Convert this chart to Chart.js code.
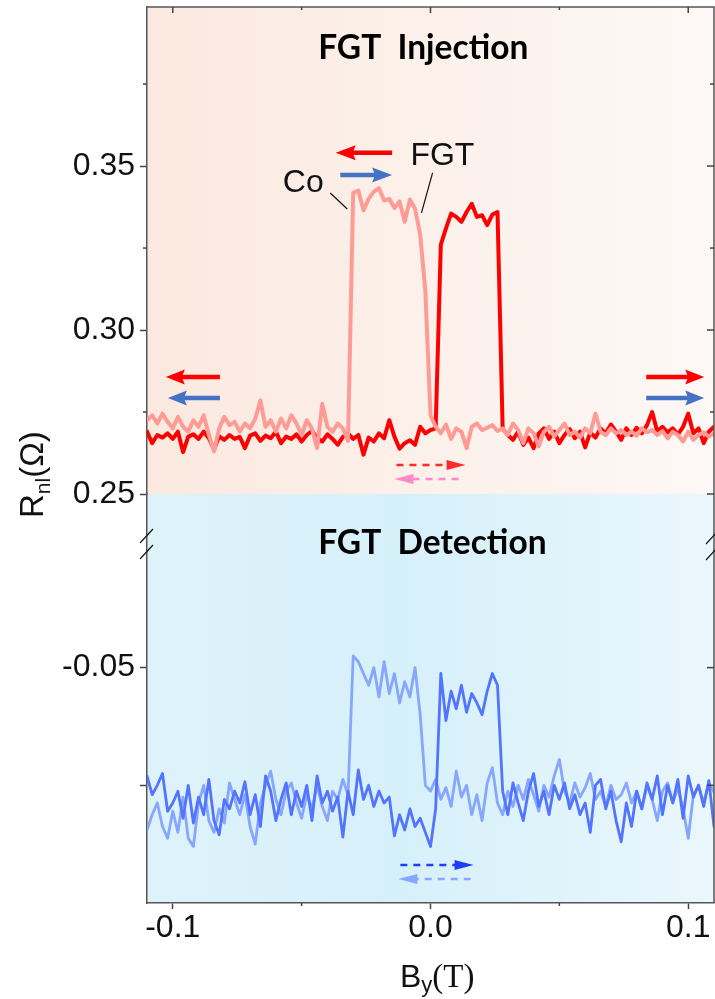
<!DOCTYPE html>
<html><head><meta charset="utf-8">
<script src="https://cdn.jsdelivr.net/npm/chart.js@4/dist/chart.umd.min.js"></script>
<style>html,body{margin:0;padding:0;background:#fff;}#wrap{width:715px;height:999px;}</style>
</head><body><div id="wrap"><canvas id="c" width="715" height="999"></canvas></div>
<script>
// ---------- data (field in T, resistance in Ohm) ----------
const fieldT = [-0.110,-0.108,-0.106,-0.104,-0.102,-0.100,-0.098,-0.096,-0.094,-0.092,
-0.090,-0.088,-0.086,-0.084,-0.082,-0.080,-0.078,-0.076,-0.074,-0.072,
-0.070,-0.068,-0.066,-0.064,-0.062,-0.060,-0.058,-0.056,-0.054,-0.052,
-0.050,-0.048,-0.046,-0.044,-0.042,-0.040,-0.038,-0.036,-0.034,-0.032,
-0.030,-0.028,-0.026,-0.024,-0.022,-0.020,-0.018,-0.016,-0.014,-0.012,
-0.010,-0.008,-0.006,-0.004,-0.002,0.000,0.002,0.004,0.006,0.008,
0.010,0.012,0.014,0.016,0.018,0.020,0.022,0.024,0.026,0.028,
0.030,0.032,0.034,0.036,0.038,0.040,0.042,0.044,0.046,0.048,
0.050,0.052,0.054,0.056,0.058,0.060,0.062,0.064,0.066,0.068,
0.070,0.072,0.074,0.076,0.078,0.080,0.082,0.084,0.086,0.088,
0.090,0.092,0.094,0.096,0.098,0.100,0.102,0.104,0.106,0.108,0.110];

// FGT injection, sweep up (red)
const injSweepUp = [0.2690,0.2655,0.2680,0.2672,0.2685,0.2668,0.2690,0.2628,0.2675,0.2682,
0.2668,0.2690,0.2670,0.2636,0.2676,0.2665,0.2680,0.2668,0.2674,0.2640,
0.2678,0.2685,0.2662,0.2678,0.2670,0.2690,0.2655,0.2675,0.2668,0.2682,
0.2660,0.2680,0.2692,0.2670,0.2660,0.2682,0.2668,0.2650,0.2674,0.2685,
0.2668,0.2680,0.2620,0.2672,0.2660,0.2685,0.2670,0.2725,0.2675,0.2638,
0.2655,0.2664,0.2650,0.2705,0.2685,0.2695,0.2700,0.3260,0.3310,0.3355,
0.3345,0.3330,0.3360,0.3385,0.3345,0.3350,0.3320,0.3352,0.3360,0.2700,
0.2680,0.2665,0.2690,0.2650,0.2672,0.2640,0.2685,0.2700,0.2668,0.2690,
0.2655,0.2680,0.2698,0.2670,0.2690,0.2642,0.2688,0.2672,0.2700,0.2685,
0.2712,0.2690,0.2665,0.2700,0.2680,0.2702,0.2685,0.2710,0.2750,0.2690,
0.2705,0.2688,0.2700,0.2682,0.2705,0.2745,0.2685,0.2700,0.2655,0.2690,0.2705];

// FGT injection, sweep down (pink)
const injSweepDown = [0.2725,0.2740,0.2715,0.2745,0.2720,0.2700,0.2735,0.2705,0.2690,0.2725,
0.2705,0.2740,0.2680,0.2630,0.2700,0.2735,0.2710,0.2720,0.2690,0.2715,
0.2700,0.2730,0.2785,0.2705,0.2725,0.2690,0.2730,0.2700,0.2740,0.2715,
0.2680,0.2725,0.2700,0.2640,0.2775,0.2705,0.2690,0.2715,0.2700,0.2662,
0.3418,0.3425,0.3365,0.3400,0.3422,0.3433,0.3395,0.3400,0.3372,0.3392,
0.3330,0.3398,0.3370,0.3290,0.3120,0.2740,0.2705,0.2685,0.2712,0.2668,
0.2700,0.2690,0.2640,0.2705,0.2715,0.2695,0.2702,0.2710,0.2692,0.2700,
0.2680,0.2715,0.2695,0.2655,0.2700,0.2685,0.2645,0.2690,0.2705,0.2675,
0.2695,0.2715,0.2680,0.2690,0.2672,0.2700,0.2685,0.2745,0.2690,0.2680,
0.2700,0.2685,0.2695,0.2680,0.2690,0.2678,0.2700,0.2688,0.2695,0.2680,
0.2692,0.2670,0.2690,0.2680,0.2660,0.2690,0.2665,0.2680,0.2688,0.2675,0.2685];

// FGT detection, sweep up (dark blue)
const detSweepUp = [-0.0592,-0.0608,-0.0600,-0.0590,-0.0622,-0.0615,-0.0605,-0.0628,-0.0600,-0.0632,
-0.0610,-0.0625,-0.0595,-0.0630,-0.0642,-0.0612,-0.0620,-0.0605,-0.0615,-0.0597,
-0.0625,-0.0608,-0.0635,-0.0592,-0.0605,-0.0630,-0.0612,-0.0598,-0.0625,-0.0605,
-0.0618,-0.0600,-0.0630,-0.0592,-0.0615,-0.0605,-0.0622,-0.0610,-0.0644,-0.0605,
-0.0625,-0.0587,-0.0612,-0.0600,-0.0618,-0.0605,-0.0615,-0.0610,-0.0643,-0.0625,
-0.0638,-0.0620,-0.0635,-0.0628,-0.0640,-0.0652,-0.0620,-0.0505,-0.0545,-0.0520,
-0.0535,-0.0515,-0.0538,-0.0522,-0.0530,-0.0540,-0.0520,-0.0505,-0.0515,-0.0605,
-0.0625,-0.0598,-0.0615,-0.0630,-0.0605,-0.0590,-0.0618,-0.0605,-0.0625,-0.0600,
-0.0612,-0.0598,-0.0620,-0.0608,-0.0625,-0.0615,-0.0640,-0.0600,-0.0595,-0.0620,
-0.0605,-0.0630,-0.0648,-0.0615,-0.0635,-0.0605,-0.0620,-0.0598,-0.0612,-0.0592,
-0.0625,-0.0600,-0.0615,-0.0595,-0.0628,-0.0592,-0.0610,-0.0600,-0.0618,-0.0596,-0.0635];

// FGT detection, sweep down (light blue)
const detSweepDown = [-0.0638,-0.0625,-0.0615,-0.0635,-0.0645,-0.0622,-0.0640,-0.0610,-0.0645,-0.0652,
-0.0615,-0.0600,-0.0630,-0.0640,-0.0620,-0.0632,-0.0598,-0.0612,-0.0625,-0.0608,
-0.0635,-0.0650,-0.0615,-0.0600,-0.0588,-0.0612,-0.0625,-0.0605,-0.0598,-0.0615,
-0.0628,-0.0608,-0.0620,-0.0600,-0.0618,-0.0630,-0.0605,-0.0612,-0.0595,-0.0608,
-0.0490,-0.0495,-0.0505,-0.0515,-0.0500,-0.0525,-0.0495,-0.0522,-0.0505,-0.0530,
-0.0512,-0.0525,-0.0500,-0.0540,-0.0600,-0.0605,-0.0595,-0.0612,-0.0602,-0.0618,
-0.0588,-0.0610,-0.0600,-0.0625,-0.0608,-0.0630,-0.0598,-0.0585,-0.0615,-0.0625,
-0.0605,-0.0618,-0.0600,-0.0612,-0.0595,-0.0608,-0.0622,-0.0600,-0.0610,-0.0592,
-0.0578,-0.0605,-0.0615,-0.0598,-0.0610,-0.0602,-0.0590,-0.0612,-0.0605,-0.0618,
-0.0600,-0.0612,-0.0608,-0.0598,-0.0615,-0.0605,-0.0620,-0.0600,-0.0612,-0.0630,
-0.0605,-0.0598,-0.0615,-0.0602,-0.0620,-0.0645,-0.0608,-0.0600,-0.0615,-0.0598,-0.0606];

// tick values / labels
const fieldTicks = [-0.1,-0.05,0,0.05,0.1];
const fieldTickLabels = ['-0.1','','0.0','','0.1'];
const injTicks = [0.25,0.275,0.30,0.325,0.35,0.375];
const injTickLabels = ['0.25','','0.30','','0.35',''];
const detTicks = [-0.06,-0.05];
const detTickLabels = ['','-0.05'];

// ---------- styling ----------
const SANS = '"Liberation Sans", Arial, sans-serif';
const SERIF = '"Liberation Serif", "Times New Roman", serif';
const TITLE = 'Lato, "Open Sans", sans-serif';
const AXC = '#555';
const pts = vals => fieldT.map((x, i) => ({x, y: vals[i]}));

function hArrow(ctx, x1, x2, y, color, lw, headL, headW, dash, notch) {
  const d = Math.sign(x2 - x1);
  const base = x2 - d * headL;
  ctx.save();
  ctx.strokeStyle = color; ctx.fillStyle = color; ctx.lineWidth = lw; ctx.lineCap = 'butt';
  ctx.setLineDash(dash || []);
  ctx.beginPath(); ctx.moveTo(x1, y); ctx.lineTo(base + d * 2, y); ctx.stroke();
  ctx.setLineDash([]);
  ctx.beginPath();
  ctx.moveTo(x2, y);
  ctx.lineTo(base - d * notch, y - headW / 2);
  ctx.lineTo(base, y);
  ctx.lineTo(base - d * notch, y + headW / 2);
  ctx.closePath(); ctx.fill();
  ctx.restore();
}

const noPadY = s => { s.width = 147; s.paddingTop = 0; s.paddingBottom = 0; };

const deco = {
  id: 'deco',
  beforeDraw(chart) {
    const {ctx, chartArea: a, scales} = chart;
    const t = scales.yTop, b = scales.yBot;
    ctx.save();
    let g = ctx.createLinearGradient(a.left, 0, a.right, 0);
    g.addColorStop(0, 'rgb(251,233,223)');
    g.addColorStop(1, 'rgb(253,248,246)');
    ctx.fillStyle = g; ctx.fillRect(a.left, t.top, a.right - a.left, t.bottom - t.top);
    g = ctx.createLinearGradient(a.left, 0, a.right, 0);
    g.addColorStop(0, 'rgb(222,242,250)');
    g.addColorStop(0.45, 'rgb(214,240,250)');
    g.addColorStop(1, 'rgb(234,247,252)');
    ctx.fillStyle = g; ctx.fillRect(a.left, b.top, a.right - a.left, b.bottom - b.top);
    ctx.restore();
  },
  afterDraw(chart) {
    const {ctx, chartArea: a, scales} = chart;
    const X = v => scales.x.getPixelForValue(v);
    const YT = v => scales.yTop.getPixelForValue(v);
    const YB = v => scales.yBot.getPixelForValue(v);
    const b = scales.yBot;
    ctx.save();
    // frame top / right
    ctx.strokeStyle = AXC; ctx.lineWidth = 1.5;
    ctx.beginPath(); ctx.moveTo(a.left, a.top); ctx.lineTo(a.right, a.top); ctx.lineTo(a.right, a.bottom); ctx.stroke();
    // ticks
    ctx.lineWidth = 1.5; ctx.strokeStyle = '#444';
    fieldTicks.forEach((v, i) => {
      const x = X(v), major = fieldTickLabels[i] !== '';
      ctx.beginPath(); ctx.moveTo(x, a.top); ctx.lineTo(x, a.top + (major ? 6 : 3)); ctx.stroke();
      if (!major) { ctx.beginPath(); ctx.moveTo(x, a.bottom); ctx.lineTo(x, a.bottom + 3); ctx.stroke(); }
    });
    injTicks.forEach((v, i) => {
      const y = YT(v), major = injTickLabels[i] !== '';
      if (!major) { ctx.beginPath(); ctx.moveTo(a.left - 4, y); ctx.lineTo(a.left, y); ctx.stroke(); }
      ctx.beginPath(); ctx.moveTo(a.right, y); ctx.lineTo(a.right - (major ? 7 : 4), y); ctx.stroke();
    });
    detTicks.forEach(v => {
      const y = YB(v);
      ctx.beginPath(); ctx.moveTo(a.right, y); ctx.lineTo(a.right - 7, y); ctx.stroke();
    });
    // axis break marks
    ctx.strokeStyle = '#111'; ctx.lineWidth = 1.2;
    [[140, b.top + 49, 153, b.top + 35], [140, b.top + 65, 153, b.top + 51],
     [706, b.top + 50, 716, b.top + 39], [706, b.top + 66, 716, b.top + 55]].forEach(s => {
      ctx.beginPath(); ctx.moveTo(s[0], s[1]); ctx.lineTo(s[2], s[3]); ctx.stroke();
    });
    // panel titles
    ctx.fillStyle = '#000'; ctx.textAlign = 'left'; ctx.textBaseline = 'alphabetic';
    ctx.font = 'bold 33.5px ' + TITLE;
    ctx.fillText('FGT  Injection', X(-0.0436), YT(0.38253));
    ctx.fillText('FGT  Detection', X(-0.0436), YB(-0.040364));
    // Co / FGT labels and leaders
    ctx.font = '32px ' + SANS; ctx.fillStyle = '#111';
    ctx.fillText('Co', X(-0.0573), YT(0.3421));
    ctx.fillText('FGT', X(-0.0078), YT(0.3503));
    ctx.strokeStyle = '#111'; ctx.lineWidth = 1.2;
    ctx.beginPath(); ctx.moveTo(X(-0.0389), YT(0.3418)); ctx.lineTo(X(-0.0323), YT(0.3369)); ctx.stroke();
    ctx.beginPath(); ctx.moveTo(X(0.0008), YT(0.3479)); ctx.lineTo(X(-0.0035), YT(0.3357)); ctx.stroke();
    // magnetisation arrows
    const RED = '#ff0000', BLUE = '#4472c4';
    hArrow(ctx, X(-0.0149), X(-0.0368), YT(0.35406), RED, 4.5, 17, 15, null, 3);
    hArrow(ctx, X(-0.0350), X(-0.0149), YT(0.34726), BLUE, 4.5, 17, 15, null, 3);
    hArrow(ctx, X(-0.0817), X(-0.1027), YT(0.28567), RED, 4.5, 16, 15, null, 3);
    hArrow(ctx, X(-0.0817), X(-0.1019), YT(0.27927), BLUE, 4.5, 16, 15, null, 3);
    hArrow(ctx, X(0.0837), X(0.1062), YT(0.28567), RED, 4.5, 16, 15, null, 3);
    hArrow(ctx, X(0.0837), X(0.1062), YT(0.27927), BLUE, 4.5, 16, 15, null, 3);
    // sweep direction arrows
    hArrow(ctx, X(-0.0132), X(0.0136), YT(0.25884), '#ff2a2a', 2.5, 19, 10, [7, 6], 0);
    hArrow(ctx, X(0.0109), X(-0.0140), YT(0.25457), '#ff88c8', 2.5, 19, 10, [7, 6], 0);
    hArrow(ctx, X(-0.0117), X(0.0167), YB(-0.06678), '#1f3cff', 2.5, 19, 10, [7, 6], 0);
    hArrow(ctx, X(0.0156), X(-0.0125), YB(-0.067966), '#86a6ff', 2.5, 19, 10, [7, 6], 0);
    // y axis title
    ctx.save();
    ctx.translate(43, 518); ctx.rotate(-Math.PI / 2);
    ctx.fillStyle = '#111'; ctx.textAlign = 'left'; ctx.textBaseline = 'alphabetic';
    ctx.font = '33px ' + SANS; ctx.fillText('R', 0, 0);
    let w = ctx.measureText('R').width;
    ctx.font = '21px ' + SANS; ctx.fillText('nl', w, 7);
    w += ctx.measureText('nl').width;
    ctx.font = '33px ' + SANS; ctx.fillText('(Ω)', w, 0);
    ctx.restore();
    // x axis title
    ctx.fillStyle = '#111'; ctx.textAlign = 'left'; ctx.textBaseline = 'alphabetic';
    let xx = 400;
    ctx.font = '32px ' + SANS; ctx.fillText('B', xx, 987); xx += ctx.measureText('B').width;
    ctx.font = '22px ' + SANS; ctx.fillText('y', xx, 992); xx += ctx.measureText('y').width;
    ctx.font = '33px ' + SERIF; ctx.fillText('(T)', xx, 987);
    ctx.restore();
  }
};

new Chart(document.getElementById('c'), {
  type: 'line',
  data: {
    datasets: [
      {label: 'Injection, sweep down', data: pts(injSweepDown), yAxisID: 'yTop', borderColor: '#ff9b95', borderWidth: 4},
      {label: 'Injection, sweep up', data: pts(injSweepUp), yAxisID: 'yTop', borderColor: '#ff0000', borderWidth: 4},
      {label: 'Detection, sweep up', data: pts(detSweepUp), yAxisID: 'yBot', borderColor: '#5274ff', borderWidth: 2.8},
      {label: 'Detection, sweep down', data: pts(detSweepDown), yAxisID: 'yBot', borderColor: '#86a6ff', borderWidth: 2.8}
    ]
  },
  options: {
    responsive: false, animation: false, devicePixelRatio: 1,
    layout: {padding: {top: 7, right: 1, left: 0, bottom: 0}},
    plugins: {legend: {display: false}, tooltip: {enabled: false}},
    elements: {point: {radius: 0}, line: {tension: 0, borderJoinStyle: 'round', borderCapStyle: 'round'}},
    scales: {
      x: {
        type: 'linear', position: 'bottom', min: -0.11, max: 0.11,
        afterBuildTicks: s => { s.ticks = fieldTicks.map(v => ({value: v})); },
        afterFit: s => { s.height = 96; s.paddingLeft = 0; s.paddingRight = 0; },
        ticks: {callback: (v, i) => fieldTickLabels[i], font: {family: SANS, size: 32}, color: '#111', padding: 0, maxRotation: 0, autoSkip: false},
        grid: {display: true, drawOnChartArea: false, drawTicks: true, tickLength: 6, tickWidth: 1.5,
               tickColor: c => fieldTickLabels[c.index] ? '#444' : 'rgba(0,0,0,0)'},
        border: {display: true, color: AXC, width: 1.5}
      },
      yBot: {
        type: 'linear', position: 'left', stack: 'panels', stackWeight: 409, weight: 1,
        min: -0.07, max: -0.03525,
        afterBuildTicks: s => { s.ticks = detTicks.map(v => ({value: v})); },
        afterFit: noPadY,
        ticks: {callback: (v, i) => detTickLabels[i], font: {family: SANS, size: 32}, color: '#111', padding: 5, autoSkip: false},
        grid: {display: true, drawOnChartArea: false, drawTicks: true, tickLength: 7, tickWidth: 1.5, tickColor: '#444'},
        border: {display: true, color: AXC, width: 1.5}
      },
      yTop: {
        type: 'linear', position: 'left', stack: 'panels', stackWeight: 487, weight: 2,
        min: 0.25, max: 0.3985,
        afterBuildTicks: s => { s.ticks = injTicks.map(v => ({value: v})); },
        afterFit: noPadY,
        ticks: {callback: (v, i) => injTickLabels[i], font: {family: SANS, size: 32}, color: '#111', padding: 5, autoSkip: false},
        grid: {display: true, drawOnChartArea: false, drawTicks: true, tickLength: 7, tickWidth: 1.5,
               tickColor: c => injTickLabels[c.index] ? '#444' : 'rgba(0,0,0,0)'},
        border: {display: true, color: AXC, width: 1.5}
      }
    }
  },
  plugins: [deco]
});
</script></body></html>
